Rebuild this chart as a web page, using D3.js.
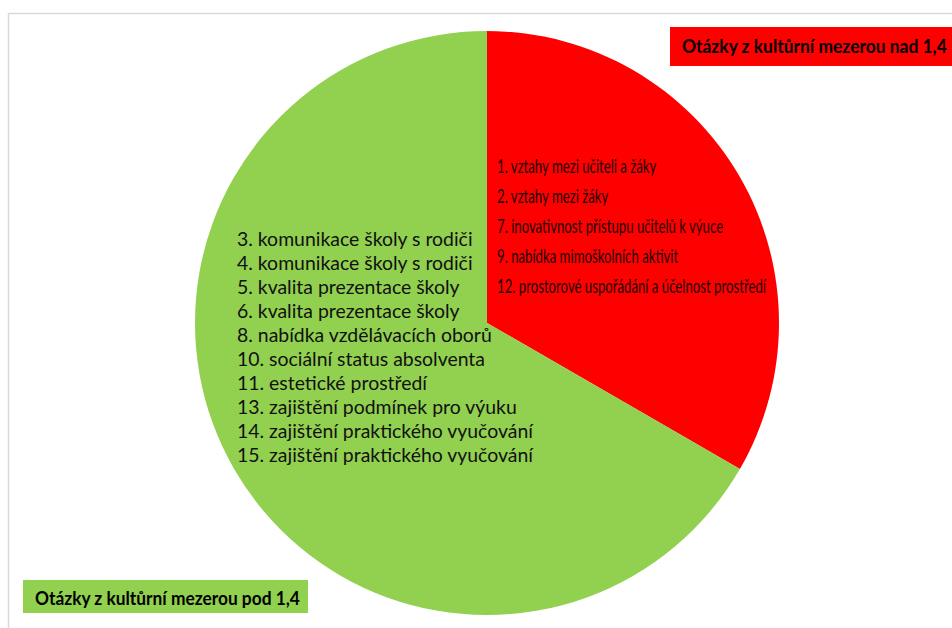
<!DOCTYPE html>
<html>
<head>
<meta charset="utf-8">
<script src="https://cdn.jsdelivr.net/npm/d3@7/dist/d3.min.js"></script>
<style>
  html, body { margin: 0; padding: 0; background: #fff; }
  svg { display: block; }
</style>
</head>
<body>
<svg id="chart" width="952" height="628"></svg>
<script>
// ---- data ----
const categories = ["Otázky z kultůrní mezerou nad 1,4", "Otázky z kultůrní mezerou pod 1,4"];
const counts = [5, 10];
const colors = ["#FF0000", "#92D050"];
const itemsAbove = [
  "1. vztahy mezi učiteli a žáky",
  "2. vztahy mezi žáky",
  "7. inovativnost přístupu učitelů k výuce",
  "9. nabídka mimoškolních aktivit",
  "12. prostorové uspořádání a účelnost prostředí"
];
const itemsBelow = [
  "3. komunikace školy s rodiči",
  "4. komunikace školy s rodiči",
  "5. kvalita prezentace školy",
  "6. kvalita prezentace školy",
  "8. nabídka vzdělávacích oborů",
  "10. sociální status absolventa",
  "11. estetické prostředí",
  "13. zajištění podmínek pro výuku",
  "14. zajištění praktického vyučování",
  "15. zajištění praktického vyučování"
];

// ---- drawing ----
const svg = d3.select("#chart");
const W = 952, H = 628;

// frame lines (top and left)
svg.append("path")
  .attr("d", `M8.5,${H} L8.5,13.5 L${W},13.5`)
  .attr("fill", "none")
  .attr("stroke", "#d9d9d9")
  .attr("stroke-width", 1.5);

const cx = 487, cy = 323, r = 292;
const pie = d3.pie().sort(null).value(d => d)(counts);
const arc = d3.arc().innerRadius(0).outerRadius(r);

const g = svg.append("g").attr("transform", `translate(${cx},${cy})`);
g.selectAll("path.slice")
  .data(pie)
  .join("path")
  .attr("class", "slice")
  .attr("d", arc)
  .attr("fill", (d, i) => colors[i]);

const fontFam = "Lato, 'Open Sans', 'Liberation Sans', sans-serif";

// helper: block of lines, scaled horizontally so widest line fits targetWidth
function textBlock(lines, x, y0, dy, size, targetWidth, fill, weight) {
  const grp = svg.append("g");
  const inner = grp.append("g");
  const texts = inner.selectAll("text")
    .data(lines)
    .join("text")
    .attr("x", 0)
    .attr("y", (d, i) => i * dy)
    .attr("font-family", fontFam)
    .attr("font-size", size)
    .attr("font-weight", weight || "normal")
    .attr("fill", fill)
    .text(d => d);
  let maxW = 0;
  texts.each(function () { maxW = Math.max(maxW, this.getComputedTextLength()); });
  const sx = maxW > 0 ? targetWidth / maxW : 1;
  grp.attr("transform", `translate(${x},${y0}) scale(${sx},1)`);
  return grp;
}

// slice labels
textBlock(itemsAbove, 497, 173, 30, 20, 269, "#1a0000", "normal");
textBlock(itemsBelow, 237, 246, 24, 19.5, 296, "#111", "normal");

// legend boxes
svg.append("rect").attr("x", 670).attr("y", 27).attr("width", W - 670).attr("height", 39)
  .attr("fill", colors[0]);
textBlock([categories[0]], 682, 53, 0, 19.5, 265, "#000", "bold");

svg.append("rect").attr("x", 23).attr("y", 580).attr("width", 285).attr("height", 33)
  .attr("fill", colors[1]);
textBlock([categories[1]], 35, 605, 0, 19.5, 265, "#000", "bold");
</script>
</body>
</html>
